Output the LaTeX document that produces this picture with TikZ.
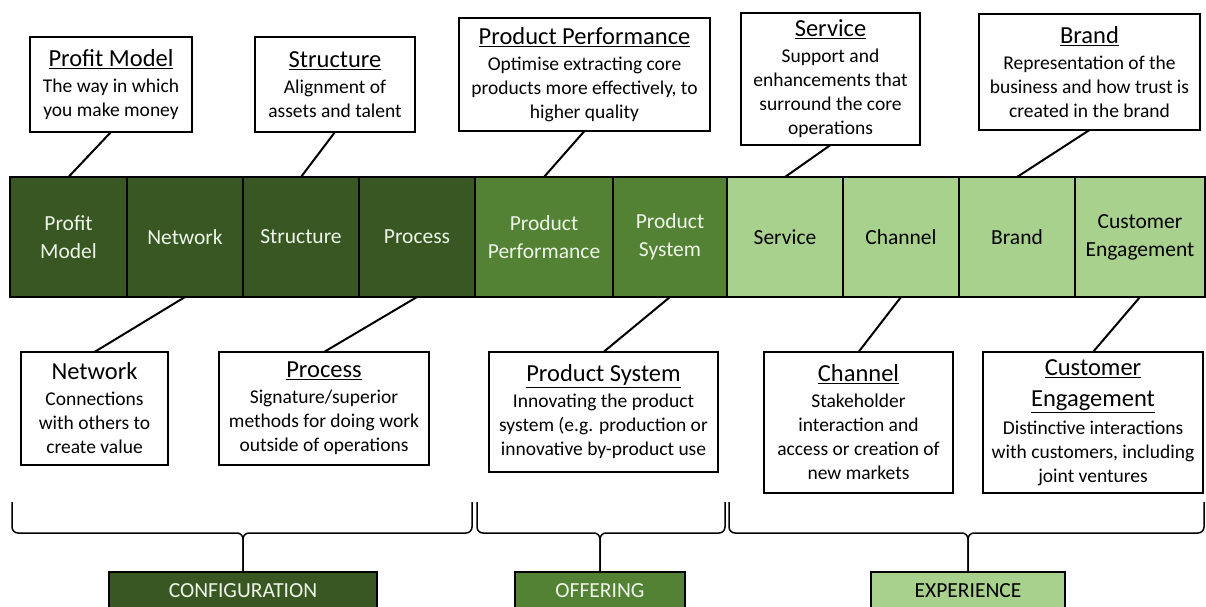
\documentclass[tikz,border=0pt]{standalone}
\usepackage{fontspec}
\setmainfont{Carlito}
\usetikzlibrary{positioning, calc}

\definecolor{darkgrn}{HTML}{385723}
\definecolor{midgrn}{HTML}{548235}
\definecolor{lightgrn}{HTML}{A9D18E}
\definecolor{paletext}{HTML}{EEF5E8}

\newcommand\heading[1]{{\fontsize{24.5}{29}\selectfont\underline{#1}}}
\newcommand\plainheading[1]{{\fontsize{24.5}{29}\selectfont #1}}

\tikzset{
  cell/.style={draw, rectangle, line width=1.6pt, minimum height=120pt, inner sep=0pt, outer sep=0pt,
    align=center, font=\fontsize{21.5}{28}\selectfont},
  conf/.style={cell, fill=darkgrn, text=paletext},
  offer/.style={cell, fill=midgrn, text=paletext},
  exper/.style={cell, fill=lightgrn, text=black},
  callout/.style={draw, rectangle, fill=white, line width=2pt, inner sep=0pt, outer sep=0pt,
    align=center, font=\fontsize{19.5}{24}\selectfont},
  link/.style={line width=2pt},
  group/.style={draw, rectangle, line width=1.6pt, minimum height=38pt, inner sep=0pt,
    font=\fontsize{21.5}{26}\selectfont},
  curly/.style={line width=1.5pt, rounded corners=6pt}
}

\begin{document}
\begin{tikzpicture}[x=1pt, y=1pt]
  \useasboundingbox (0,0) rectangle (1206,606);

  % the ten types in one bar
  \node[conf, minimum width=117pt, anchor=west] (1) at (10,369) {Profit\\Model};
  \node[conf, minimum width=116pt] (2) [right=0pt of 1] {Network};
  \node[conf, minimum width=116pt] (3) [right=0pt of 2] {Structure};
  \node[conf, minimum width=116pt] (4) [right=0pt of 3] {Process};
  \node[offer, minimum width=138pt] (5) [right=0pt of 4] {Product\\Performance};
  \node[offer, minimum width=114pt] (6) [right=0pt of 5] {Product\\System};
  \node[exper, minimum width=116pt] (7) [right=0pt of 6] {Service};
  \node[exper, minimum width=116pt] (8) [right=0pt of 7] {Channel};
  \node[exper, minimum width=116pt] (9) [right=0pt of 8] {Brand};
  \node[exper, minimum width=130pt] (10) [right=0pt of 9] {Customer\\Engagement};

  % callouts above
  \node[callout, minimum width=162pt, minimum height=95pt] (11) at (111,521.5)
    {\heading{Profit Model}\\[2pt]The way in which\\you make money};
  \node[callout, minimum width=160pt, minimum height=95pt] (31) at (335,521.5)
    {\heading{Structure}\\[2pt]Alignment of\\assets and talent};
  \node[callout, minimum width=251pt, minimum height=113pt] (51) at (584.5,531.5)
    {\heading{Product Performance}\\[2pt]Optimise extracting core\\products more effectively, to\\higher quality};
  \node[callout, minimum width=179pt, minimum height=132pt] (71) at (830.5,527)
    {\heading{Service}\\[2pt]Support and\\enhancements that\\surround the core\\operations};
  \node[callout, minimum width=221pt, minimum height=116pt] (91) at (1089.5,534)
    {\heading{Brand}\\[2pt]Representation of the\\business and how trust is\\created in the brand};

  % callouts below
  \node[callout, minimum width=147pt, minimum height=113pt] (21) at (94.5,197.5)
    {\plainheading{Network}\\[2pt]Connections\\with others to\\create value};
  \node[callout, minimum width=210pt, minimum height=113pt] (41) at (324,197.5)
    {\heading{Process}\\[2pt]Signature/superior\\methods for doing work\\outside of operations};
  \node[callout, minimum width=229pt, minimum height=120pt] (61) at (603.5,194)
    {\heading{Product System}\\[2pt]Innovating the product\\system (e.g. production or\\innovative by-product use};
  \node[callout, minimum width=189pt, minimum height=141pt] (81) at (858.5,183.5)
    {\heading{Channel}\\[2pt]Stakeholder\\interaction and\\access or creation of\\new markets};
  \node[callout, minimum width=220pt, minimum height=141pt] (101) at (1093,183.5)
    {\heading{Customer}\\[7pt]\heading{Engagement}\\[4pt]Distinctive interactions\\with customers, including\\joint ventures};

  \draw[link] (11.south) -- (1.north);
  \draw[link] (31.south) -- (3.north);
  \draw[link] (51.south) -- (5.north);
  \draw[link] (71.south) -- (7.north);
  \draw[link] (91.south) -- (9.north);
  \draw[link] (21.north) -- (2.south);
  \draw[link] (41.north) -- (4.south);
  \draw[link] (61.north) -- (6.south);
  \draw[link] (81.north) -- (8.south);
  \draw[link] (101.north) -- (10.south);

  % groups
  \node[group, fill=darkgrn, text=paletext, minimum width=268pt] (c1) at (243,15) {CONFIGURATION};
  \node[group, fill=midgrn, text=paletext, minimum width=170pt] (c2) at (600,15) {OFFERING};
  \node[group, fill=lightgrn, text=black, minimum width=194pt] (c3) at (968,15) {EXPERIENCE};

  \coordinate (l1) at (12,104);
  \coordinate (r1) at (472,104);
  \coordinate (l2) at (477,104);
  \coordinate (r2) at (725,104);
  \coordinate (l3) at (729,104);
  \coordinate (r3) at (1204,104);

  \draw[curly] (l1) |- (c1.north |- 0,73) -- (c1.north);
  \draw[curly] (r1) |- (c1.north |- 0,73) -- (c1.north);
  \draw[curly] (l2) |- (c2.north |- 0,73) -- (c2.north);
  \draw[curly] (r2) |- (c2.north |- 0,73) -- (c2.north);
  \draw[curly] (l3) |- (c3.north |- 0,73) -- (c3.north);
  \draw[curly] (r3) |- (c3.north |- 0,73) -- (c3.north);
\end{tikzpicture}
\end{document}
